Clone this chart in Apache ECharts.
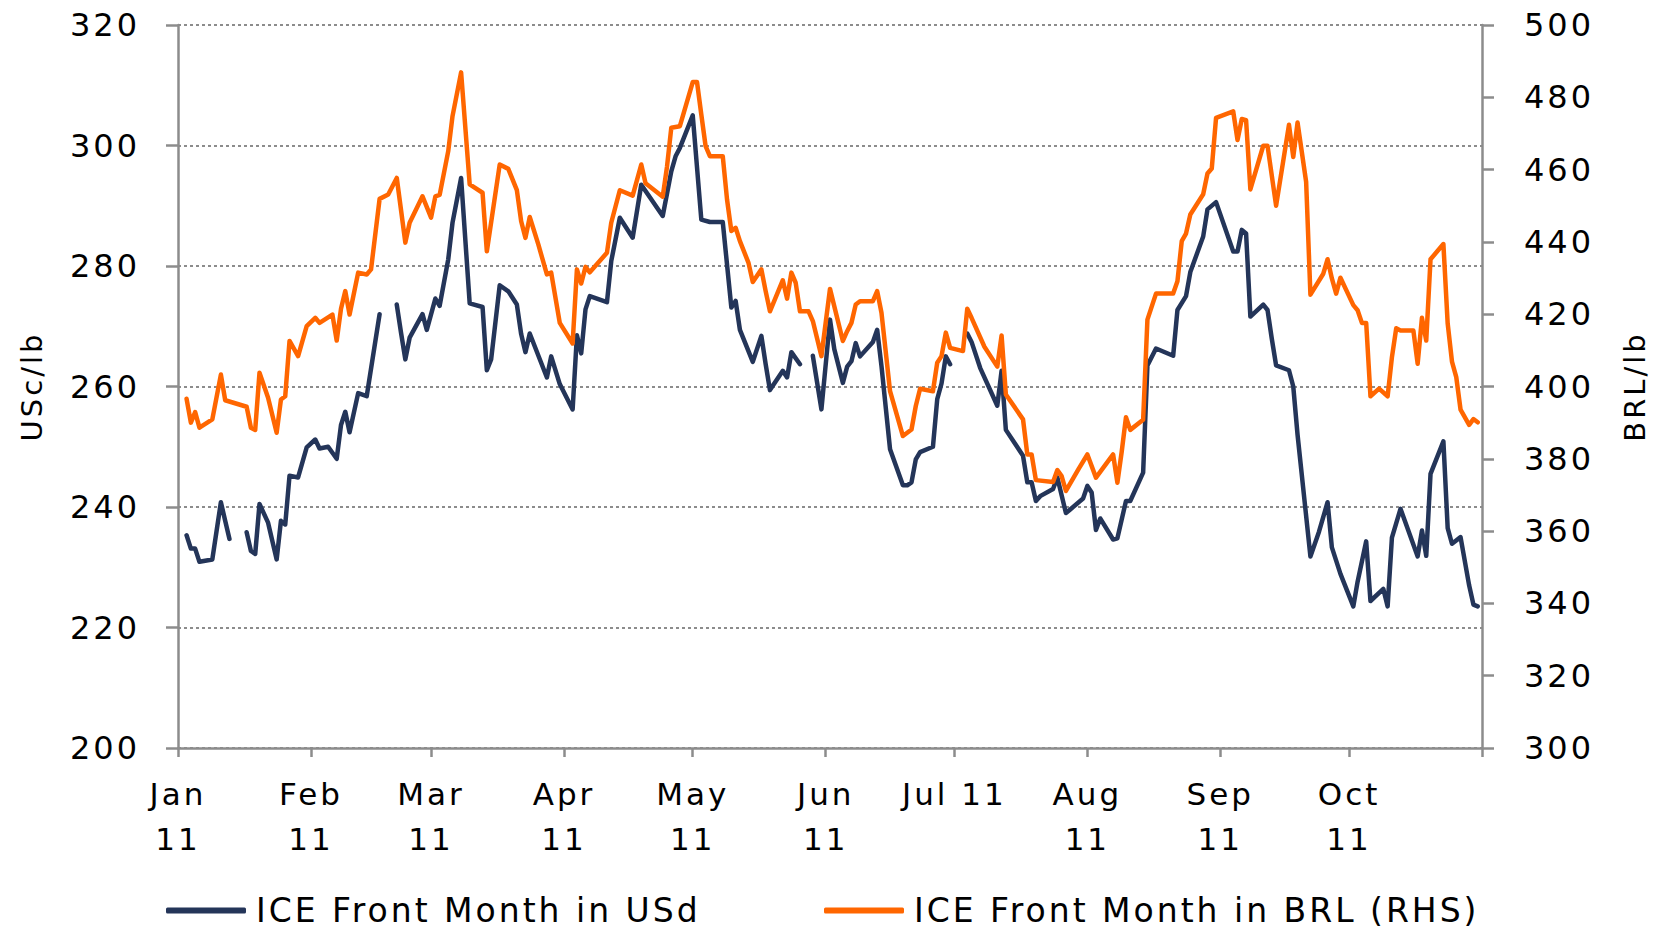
<!DOCTYPE html>
<html>
<head>
<meta charset="utf-8">
<script src="https://cdn.jsdelivr.net/npm/echarts@6/dist/echarts.min.js"></script>
<style>
html, body { margin: 0; padding: 0; background: #fff; }
#chart { width: 1659px; height: 930px; }
/* the original text is set a little loose */
#chart svg text { letter-spacing: 3px; }
</style>
</head>
<body>
<div id="chart"></div>
<script>
// ICE front month coffee, 2011
var usdDates = [
  '2011-01-03','2011-01-04','2011-01-05','2011-01-06','2011-01-09','2011-01-11','2011-01-12','2011-01-13','2011-01-15','2011-01-17',
  '2011-01-18','2011-01-19','2011-01-20','2011-01-22','2011-01-24','2011-01-25','2011-01-26','2011-01-27','2011-01-29','2011-01-31',
  '2011-02-02','2011-02-03','2011-02-05','2011-02-07','2011-02-08','2011-02-09','2011-02-10','2011-02-12','2011-02-14','2011-02-17',
  '2011-02-19','2011-02-21','2011-02-22','2011-02-23','2011-02-24','2011-02-27','2011-02-28',
  '2011-03-02','2011-03-03','2011-03-05','2011-03-06','2011-03-08','2011-03-10','2011-03-13','2011-03-14','2011-03-15','2011-03-17',
  '2011-03-19','2011-03-21','2011-03-22','2011-03-23','2011-03-24','2011-03-28','2011-03-29','2011-03-31',
  '2011-04-03','2011-04-04','2011-04-05','2011-04-06','2011-04-07','2011-04-11','2011-04-12','2011-04-14','2011-04-17','2011-04-19',
  '2011-04-24','2011-04-26','2011-04-27','2011-04-28',
  '2011-05-01','2011-05-03','2011-05-05','2011-05-08','2011-05-10','2011-05-11','2011-05-12','2011-05-15','2011-05-17','2011-05-18',
  '2011-05-19','2011-05-22','2011-05-23','2011-05-24','2011-05-26','2011-05-27','2011-05-29','2011-05-31',
  '2011-06-02','2011-06-03','2011-06-05','2011-06-06','2011-06-07','2011-06-08','2011-06-09','2011-06-12','2011-06-13','2011-06-14',
  '2011-06-16','2011-06-19','2011-06-20','2011-06-21','2011-06-22','2011-06-23','2011-06-26','2011-06-27','2011-06-28','2011-06-29','2011-06-30',
  '2011-07-02','2011-07-04','2011-07-05','2011-07-07','2011-07-11','2011-07-12','2011-07-13','2011-07-17','2011-07-18','2011-07-19',
  '2011-07-20','2011-07-21','2011-07-24','2011-07-25','2011-07-27','2011-07-28','2011-07-31',
  '2011-08-01','2011-08-02','2011-08-03','2011-08-04','2011-08-07','2011-08-08','2011-08-10','2011-08-11','2011-08-14','2011-08-15',
  '2011-08-17','2011-08-21','2011-08-22','2011-08-24','2011-08-25','2011-08-28','2011-08-29','2011-08-31',
  '2011-09-04','2011-09-05','2011-09-06','2011-09-07','2011-09-08','2011-09-11','2011-09-12','2011-09-13','2011-09-14','2011-09-17',
  '2011-09-18','2011-09-19','2011-09-22','2011-09-24','2011-09-26','2011-09-27','2011-09-28','2011-09-29',
  '2011-10-02','2011-10-03','2011-10-05','2011-10-06','2011-10-09','2011-10-10','2011-10-11','2011-10-13','2011-10-17','2011-10-18',
  '2011-10-19','2011-10-20','2011-10-23','2011-10-24','2011-10-25','2011-10-27','2011-10-29','2011-10-30','2011-10-31'
];
var usdValues = [
  235.3,233.1,233.1,230.9,231.3,240.8,237.7,234.7,null,235.8,
  232.7,232.2,240.5,237.4,231.3,237.7,237.1,245.2,244.9,249.9,
  251.2,249.7,250.0,248.0,253.6,255.8,252.4,258.9,258.4,272.0,
  null,273.6,268.9,264.5,268.1,272.0,269.4,
  274.6,273.4,281.1,287.2,294.6,273.8,273.2,262.7,264.5,276.8,
  275.8,273.6,268.7,265.7,268.8,261.5,265.0,260.4,
  256.2,268.5,265.5,272.8,275.0,274.0,280.8,288.0,284.7,293.5,
  288.3,295.7,298.2,299.6,
  305.0,287.7,287.3,287.3,273.1,274.2,269.4,264.1,268.4,263.7,
  259.4,262.6,261.5,265.7,263.7,null,265.1,256.2,
  271.1,266.2,260.6,263.3,264.2,267.2,265.0,267.4,269.4,263.4,
  249.6,243.6,243.6,244.1,247.9,249.1,250.0,257.9,260.5,265.0,263.7,
  null,268.8,267.4,263.1,256.8,262.6,252.8,248.5,244.1,244.1,
  241.0,241.8,243.0,244.9,239.0,239.6,241.4,
  243.5,242.4,236.2,238.1,234.6,234.8,241.0,241.0,245.7,263.5,
  266.3,265.1,272.7,275.0,279.0,284.9,289.4,290.6,
  282.4,282.4,286.0,285.4,271.6,273.6,272.7,267.9,263.5,262.7,
  260.0,252.0,231.8,235.9,240.8,233.3,231.1,228.9,
  223.5,227.6,234.3,224.4,226.4,223.5,234.9,239.7,231.8,236.1,
  231.9,245.5,250.9,236.5,233.9,235.0,227.0,223.8,223.5
];

var brlDates = [
  '2011-01-03','2011-01-04','2011-01-05','2011-01-06','2011-01-09','2011-01-11','2011-01-12','2011-01-17','2011-01-18','2011-01-19',
  '2011-01-20','2011-01-22','2011-01-24','2011-01-25','2011-01-26','2011-01-27','2011-01-29','2011-01-31',
  '2011-02-02','2011-02-03','2011-02-06','2011-02-07','2011-02-08','2011-02-09','2011-02-10','2011-02-12','2011-02-14','2011-02-15',
  '2011-02-17','2011-02-19','2011-02-21','2011-02-23','2011-02-24','2011-02-27',
  '2011-03-01','2011-03-02','2011-03-03','2011-03-05','2011-03-06','2011-03-08','2011-03-10','2011-03-13','2011-03-14','2011-03-17',
  '2011-03-19','2011-03-21','2011-03-22','2011-03-23','2011-03-24','2011-03-26','2011-03-28','2011-03-29','2011-03-31',
  '2011-04-03','2011-04-04','2011-04-05','2011-04-06','2011-04-07','2011-04-11','2011-04-12','2011-04-14','2011-04-17','2011-04-19',
  '2011-04-20','2011-04-24','2011-04-25','2011-04-26','2011-04-28',
  '2011-05-01','2011-05-02','2011-05-03','2011-05-04','2011-05-05','2011-05-08','2011-05-09','2011-05-10','2011-05-11','2011-05-12',
  '2011-05-14','2011-05-15','2011-05-17','2011-05-18','2011-05-19','2011-05-22','2011-05-23','2011-05-24','2011-05-25','2011-05-26',
  '2011-05-28','2011-05-29','2011-05-31',
  '2011-06-02','2011-06-05','2011-06-06','2011-06-07','2011-06-08','2011-06-09','2011-06-12','2011-06-13','2011-06-14','2011-06-16',
  '2011-06-19','2011-06-21','2011-06-22','2011-06-23','2011-06-26','2011-06-27','2011-06-28','2011-06-29','2011-06-30',
  '2011-07-03','2011-07-04','2011-07-05','2011-07-08','2011-07-11','2011-07-12','2011-07-13','2011-07-17','2011-07-18','2011-07-19',
  '2011-07-20','2011-07-24','2011-07-25','2011-07-26','2011-07-27','2011-07-30',
  '2011-08-01','2011-08-03','2011-08-07','2011-08-08','2011-08-09','2011-08-10','2011-08-11','2011-08-14','2011-08-15','2011-08-17',
  '2011-08-21','2011-08-22','2011-08-23','2011-08-24','2011-08-25','2011-08-28','2011-08-29','2011-08-30','2011-08-31',
  '2011-09-04','2011-09-05','2011-09-06','2011-09-07','2011-09-08','2011-09-11','2011-09-12','2011-09-14','2011-09-17','2011-09-18',
  '2011-09-19','2011-09-21','2011-09-22','2011-09-25','2011-09-26','2011-09-27','2011-09-28','2011-09-29',
  '2011-10-02','2011-10-03','2011-10-04','2011-10-05','2011-10-06','2011-10-08','2011-10-10','2011-10-11','2011-10-12','2011-10-13',
  '2011-10-16','2011-10-17','2011-10-18','2011-10-19','2011-10-20','2011-10-23','2011-10-24','2011-10-25','2011-10-26','2011-10-27',
  '2011-10-29','2011-10-30','2011-10-31'
];
var brlValues = [
  396.6,390.0,392.9,388.6,390.9,403.3,396.2,394.4,388.6,388.0,
  403.8,396.9,387.2,396.4,397.3,412.6,408.4,416.7,
  419.0,417.6,419.9,412.7,421.5,426.4,419.9,431.5,431.0,432.4,
  451.9,453.1,457.7,439.8,445.3,452.6,
  446.7,452.6,453.0,465.1,474.8,486.9,455.9,453.6,437.4,461.4,
  460.2,454.3,445.7,441.1,446.9,439.3,431.0,431.5,417.6,
  411.9,432.4,428.5,433.1,431.6,437.0,445.3,454.3,452.8,461.4,
  456.2,452.5,460.8,471.6,472.0,
  484.2,484.2,475.2,466.5,463.7,463.7,451.7,443.0,443.9,440.2,
  434.2,428.9,432.4,426.4,420.8,429.4,424.3,431.5,428.7,420.8,
  420.8,418.1,408.4,
  427.0,412.6,415.3,417.6,422.7,423.6,423.6,426.4,420.4,398.7,
  386.3,388.1,394.6,399.4,398.7,406.6,408.4,414.9,410.7,
  409.8,421.5,419.0,411.0,405.5,414.1,397.8,390.9,381.2,381.2,
  374.1,373.6,376.9,375.2,371.1,377.3,
  381.2,374.8,381.2,373.4,381.9,391.5,388.0,390.8,418.5,425.7,
  425.7,429.1,440.2,442.3,447.6,453.2,458.9,460.3,474.3,
  476.1,468.2,474.0,473.7,454.5,466.6,466.6,450.0,472.4,463.5,
  473.0,456.6,425.4,431.2,435.2,429.9,425.7,430.1,
  422.5,421.1,417.6,417.6,397.3,399.4,397.3,408.1,416.1,415.5,
  415.5,406.3,419.0,412.7,435.2,439.4,417.4,406.9,402.6,393.6,
  389.4,391.0,390.1
];

var monthTicks = ['2011-01-01','2011-02-01','2011-03-01','2011-04-01','2011-05-01','2011-06-01',
                  '2011-07-01','2011-08-01','2011-09-01','2011-10-01','2011-11-01'];
var monthLabels = ['Jan\n11','Feb\n11','Mar\n11','Apr\n11','May\n11','Jun\n11',
                   'Jul 11','Aug\n11','Sep\n11','Oct\n11',''];
var seriesNames = ['ICE Front Month in USd', 'ICE Front Month in BRL (RHS)'];

var FONT = 'DejaVu Sans';
var axisGrey = '#8c8c8c';
var navy = '#243559';
var orange = '#ff6600';

function toTime(s) { return +echarts.number.parseDate(s); }
var tickTimes = monthTicks.map(toTime);

function pairs(dates, vals) {
  return dates.map(function (d, i) { return [toTime(d), vals[i] == null ? '-' : vals[i]]; });
}

var myChart = echarts.init(document.getElementById('chart'), null, { renderer: 'svg' });

var legendBase = {
  top: 889,
  icon: 'roundRect',
  itemWidth: 80,
  itemHeight: 6,
  textStyle: { fontFamily: FONT, fontSize: 33, lineHeight: 33, color: '#000', padding: [0, 0, 0, 5] }
};

var option = {
  backgroundColor: '#fff',
  animation: false,
  grid: { left: 178, right: 177, top: 25, bottom: 182 },
  legend: [
    Object.assign({ left: 161, data: [seriesNames[0]] }, legendBase),
    Object.assign({ left: 819, data: [seriesNames[1]] }, legendBase)
  ],
  xAxis: {
    type: 'value',
    min: tickTimes[0],
    max: tickTimes[tickTimes.length - 1],
    axisLine: { lineStyle: { color: axisGrey, width: 2.5 } },
    axisTick: { show: true, length: 9, lineStyle: { color: axisGrey, width: 2.5 }, customValues: tickTimes },
    axisLabel: {
      customValues: tickTimes,
      fontFamily: FONT, fontSize: 31, color: '#000', lineHeight: 45, margin: 23,
      formatter: function (val) {
        var i = tickTimes.indexOf(val);
        return i >= 0 ? monthLabels[i] : '';
      }
    },
    splitLine: { show: false }
  },
  yAxis: [
    {
      type: 'value', min: 200, max: 320, interval: 20,
      name: 'USc/lb', nameLocation: 'middle', nameGap: 132,
      nameTextStyle: { fontFamily: FONT, fontSize: 29, color: '#000' },
      axisLine: { show: true, lineStyle: { color: axisGrey, width: 2.5 } },
      axisTick: { show: true, length: 12, lineStyle: { color: axisGrey, width: 2.5 } },
      axisLabel: { fontFamily: FONT, fontSize: 32, color: '#000', margin: 38 },
      splitLine: { show: true, lineStyle: { color: '#8c8c8c', width: 2, type: [3, 3] } }
    },
    {
      type: 'value', min: 300, max: 500, interval: 20, position: 'right',
      name: 'BRL/lb', nameLocation: 'middle', nameGap: 138,
      nameTextStyle: { fontFamily: FONT, fontSize: 29, color: '#000' },
      axisLine: { show: true, lineStyle: { color: axisGrey, width: 2.5 } },
      axisTick: { show: true, length: 12, lineStyle: { color: axisGrey, width: 2.5 } },
      axisLabel: { fontFamily: FONT, fontSize: 32, color: '#000', margin: 42 },
      splitLine: { show: false }
    }
  ],
  series: [
    {
      name: seriesNames[0],
      type: 'line',
      yAxisIndex: 0,
      showSymbol: false,
      symbol: 'none',
      connectNulls: false,
      color: navy,
      lineStyle: { width: 4.5, color: navy, join: 'round', cap: 'round' },
      data: pairs(usdDates, usdValues)
    },
    {
      name: seriesNames[1],
      type: 'line',
      yAxisIndex: 1,
      showSymbol: false,
      symbol: 'none',
      color: orange,
      lineStyle: { width: 4.5, color: orange, join: 'round', cap: 'round' },
      data: pairs(brlDates, brlValues)
    }
  ]
};

myChart.setOption(option, true);
</script>
</body>
</html>
